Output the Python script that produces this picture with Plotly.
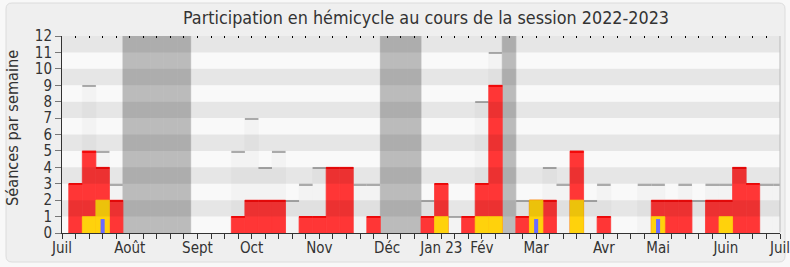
import plotly.graph_objects as go

# ---- data (week index 0 = début juillet 2022) ----
weeks = list(range(54))
tick_weeks = [0, 5, 10, 14, 19, 24, 28, 31, 35, 40, 44, 49, 53]
tick_labels = ["Juil", "Août", "Sept", "Oct", "Nov", "Déc", "Jan 23", "Fév",
               "Mar", "Avr", "Mai", "Juin", "Juil"]

seances = [0, 3, 9, 5, 3, 0, 0, 0, 0, 0,
           0, 0, 0, 5, 7, 4, 5, 2, 3, 4,
           4, 4, 3, 3, 0, 0, 0, 2, 3, 1,
           1, 8, 11, 0, 2, 2, 4, 3, 5, 2,
           3, 0, 0, 3, 3, 2, 3, 2, 3, 3,
           4, 3, 3, 3]
presences = [0, 3, 5, 4, 2, 0, 0, 0, 0, 0,
             0, 0, 0, 1, 2, 2, 2, 0, 1, 1,
             4, 4, 0, 1, 0, 0, 0, 1, 3, 0,
             1, 3, 9, 0, 1, 2, 2, 0, 5, 0,
             1, 0, 0, 0, 2, 2, 2, 0, 2, 2,
             4, 3, 0, 0]
interventions = [0, 0, 1, 2, 0, 0, 0, 0, 0, 0,
                 0, 0, 0, 0, 0, 0, 0, 0, 0, 0,
                 0, 0, 0, 0, 0, 0, 0, 0, 1, 0,
                 0, 1, 1, 0, 0, 2, 0, 0, 2, 0,
                 0, 0, 0, 0, 1, 0, 0, 0, 0, 1,
                 0, 0, 0, 0]
question_weeks = [3, 35, 44]
question_values = [0.85, 0.85, 0.85]
vacances = [5, 6, 7, 8, 9, 24, 25, 26, 33]
y_max = 12

FONT = "DejaVu Sans Condensed, DejaVu Sans, sans-serif"
TXT = "#333333"

# plot area geometry (pixels) for paper-coordinate conversions
L, R, T, B = 62, 10, 36, 34
W, H = 790, 267
PW, PH = W - L - R, H - T - B


def px_x(x):
    return (x - L) / PW


def px_y(y):
    return (H - B - y) / PH


fig = go.Figure()


def nz(xs, ys):
    pairs = [(x, y) for x, y in zip(xs, ys) if y > 0]
    return [p[0] for p in pairs], [p[1] for p in pairs]


def fill_bar(xs, ys, color, width=1, line=True, cap=None, cap_color=None):
    x, y = nz(xs, ys)
    fig.add_bar(x=x, y=y, width=width, marker_color=color,
                marker_line_color=color, marker_line_width=0.8 if line else 0,
                hoverinfo="skip")
    if cap:
        fig.add_bar(x=x, y=[cap] * len(x), base=[v - cap for v in y],
                    width=width, marker_color=cap_color, marker_line_width=0,
                    hoverinfo="skip")


fill_bar(weeks, seances, "#f3f3f3", cap=0.08, cap_color="#aaaaaa")
fill_bar(vacances, [y_max] * len(vacances), "#bbbbbb")
fill_bar(weeks, presences, "#ff3636", cap=0.07, cap_color="#f20a0a")
fill_bar(weeks, interventions, "#ffd20c")
fill_bar(question_weeks, question_values, "#6a6aff", width=0.3, line=False)
# invisible trace for the top tick axis
fig.add_scatter(x=[0, 53], y=[0, 0], xaxis="x2", mode="markers",
                marker_opacity=0, hoverinfo="skip", showlegend=False)

shapes = []
# outer rounded frame
x0, x1 = px_x(6), px_x(785)
y0, y1 = px_y(262), px_y(3)
rx, ry = 6 / PW, 6 / PH
path = (f"M {x0+rx},{y1} L {x1-rx},{y1} Q {x1},{y1} {x1},{y1-ry} "
        f"L {x1},{y0+ry} Q {x1},{y0} {x1-rx},{y0} L {x0+rx},{y0} "
        f"Q {x0},{y0} {x0},{y0+ry} L {x0},{y1-ry} Q {x0},{y1} {x0+rx},{y1} Z")
shapes.append(dict(type="path", path=path, xref="paper", yref="paper",
                   fillcolor="#efefef", line=dict(color="#dcdcdc", width=1),
                   layer="below"))
shapes.append(dict(type="rect", xref="x", yref="y", x0=0, x1=53, y0=0,
                   y1=y_max, fillcolor="#f9f9f9", line_width=0, layer="below"))
for r in range(1, y_max, 2):
    shapes.append(dict(type="rect", xref="paper", yref="y", x0=0, x1=1,
                       y0=r, y1=r + 1, fillcolor="rgba(0,0,0,0.075)",
                       line_width=0, layer="above"))
shapes.append(dict(type="line", xref="paper", yref="paper", x0=1, x1=1,
                   y0=0.004, y1=1, line=dict(color="#bbbbbb", width=1),
                   layer="above"))

ticktext = [tick_labels[tick_weeks.index(w)] if w in tick_weeks else ""
            for w in weeks]

fig.update_layout(
    width=W, height=H,
    margin=dict(l=L, r=R, t=T, b=B, pad=0, autoexpand=False),
    barmode="overlay",
    showlegend=False,
    paper_bgcolor="#f8f8f8",
    plot_bgcolor="#f9f9f9",
    font=dict(family=FONT, size=15, color=TXT),
    shapes=shapes,
    xaxis=dict(range=[0, 53], tickmode="array", tickvals=weeks,
               ticktext=ticktext, ticks="outside", ticklen=5, tickwidth=1,
               tickcolor="#333333", showline=True, linecolor="#333333",
               linewidth=1, showgrid=False, zeroline=False, automargin=False,
               ticklabeloverflow="allow", ticklabelstandoff=-4,
               tickfont=dict(size=15, color=TXT, family=FONT),
               tickangle=0, fixedrange=True),
    xaxis2=dict(range=[0, 53], overlaying="x", side="top", tickmode="array",
                tickvals=weeks, ticks="inside", ticklen=2, tickwidth=1,
                tickcolor="#000000", showticklabels=False, showline=False,
                showgrid=False, zeroline=False, automargin=False),
    yaxis=dict(range=[0, y_max], tickmode="array",
               tickvals=list(range(y_max + 1)), ticks="outside", ticklen=6,
               tickwidth=1, tickcolor="#777777", showline=True,
               linecolor="#333333", linewidth=1, showgrid=False,
               zeroline=False, automargin=False,
               tickfont=dict(size=15, color=TXT, family=FONT)),
    annotations=[
        dict(text="Participation en hémicycle au cours de la session 2022-2023",
             xref="paper", yref="paper", x=px_x(426), y=px_y(18),
             xanchor="center", yanchor="middle", showarrow=False,
             font=dict(size=17.8, color=TXT, family=FONT)),
        dict(text="Séances par semaine", xref="paper", yref="paper",
             x=px_x(13), y=px_y(128), xanchor="center", yanchor="middle",
             textangle=-90, showarrow=False,
             font=dict(size=16.2, color=TXT, family=FONT)),
    ],
)

fig.write_html("out.html")
